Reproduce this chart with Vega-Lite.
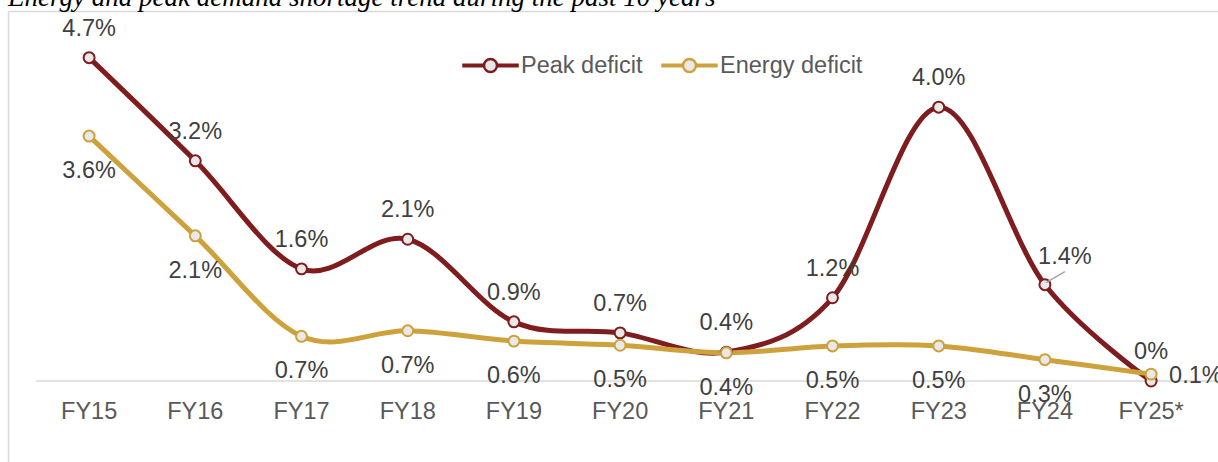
{
  "$schema": "https://vega.github.io/schema/vega-lite/v6.json",
  "width": 1210,
  "height": 451,
  "autosize": {"type": "none"},
  "padding": {"left": 8, "top": 11, "right": 0, "bottom": 0},
  "title": {
    "text": "Energy and peak demand shortage trend during the past 10 years",
    "anchor": "start",
    "frame": "group",
    "baseline": "alphabetic",
    "offset": -22,
    "font": "Liberation Serif",
    "fontStyle": "italic",
    "fontWeight": "normal",
    "fontSize": 27,
    "color": "#000000"
  },
  "config": {"view": {"stroke": null}, "font": "Liberation Sans"},
  "data": {
    "values": [
      {"year": "FY15", "series": "Peak deficit", "value": 4.7, "label": "4.7%"},
      {"year": "FY16", "series": "Peak deficit", "value": 3.2, "label": "3.2%"},
      {"year": "FY17", "series": "Peak deficit", "value": 1.63, "label": "1.6%"},
      {"year": "FY18", "series": "Peak deficit", "value": 2.06, "label": "2.1%"},
      {"year": "FY19", "series": "Peak deficit", "value": 0.86, "label": "0.9%"},
      {"year": "FY20", "series": "Peak deficit", "value": 0.7, "label": "0.7%"},
      {"year": "FY21", "series": "Peak deficit", "value": 0.42, "label": "0.4%"},
      {"year": "FY22", "series": "Peak deficit", "value": 1.21, "label": "1.2%"},
      {"year": "FY23", "series": "Peak deficit", "value": 3.98, "label": "4.0%"},
      {"year": "FY24", "series": "Peak deficit", "value": 1.4, "label": "1.4%"},
      {"year": "FY25*", "series": "Peak deficit", "value": 0, "label": "0%"},
      {"year": "FY15", "series": "Energy deficit", "value": 3.56, "label": "3.6%"},
      {"year": "FY16", "series": "Energy deficit", "value": 2.11, "label": "2.1%"},
      {"year": "FY17", "series": "Energy deficit", "value": 0.65, "label": "0.7%"},
      {"year": "FY18", "series": "Energy deficit", "value": 0.73, "label": "0.7%"},
      {"year": "FY19", "series": "Energy deficit", "value": 0.58, "label": "0.6%"},
      {"year": "FY20", "series": "Energy deficit", "value": 0.52, "label": "0.5%"},
      {"year": "FY21", "series": "Energy deficit", "value": 0.41, "label": "0.4%"},
      {"year": "FY22", "series": "Energy deficit", "value": 0.51, "label": "0.5%"},
      {"year": "FY23", "series": "Energy deficit", "value": 0.51, "label": "0.5%"},
      {"year": "FY24", "series": "Energy deficit", "value": 0.31, "label": "0.3%"},
      {"year": "FY25*", "series": "Energy deficit", "value": 0.1, "label": "0.1%"}
    ]
  },
  "encoding": {
    "x": {
      "field": "year",
      "type": "nominal",
      "scale": {
        "type": "band",
        "domain": ["FY15", "FY16", "FY17", "FY18", "FY19", "FY20", "FY21", "FY22", "FY23", "FY24", "FY25*"],
        "paddingInner": 0,
        "paddingOuter": 0.1968,
        "align": 0.67
      },
      "axis": {
        "orient": "bottom",
        "offset": -81,
        "title": null,
        "domain": false,
        "ticks": false,
        "grid": false,
        "labelAngle": 0,
        "labelFont": "Liberation Sans",
        "labelFontSize": 23.5,
        "labelColor": "#595959",
        "labelBaseline": "alphabetic",
        "labelPadding": 37
      }
    },
    "y": {
      "field": "value",
      "type": "quantitative",
      "scale": {"domain": [-1.177, 5.378], "nice": false, "zero": false},
      "axis": {
        "title": null,
        "labels": false,
        "ticks": false,
        "domain": true,
        "domainColor": "#D9D9D9",
        "domainWidth": 1.5,
        "grid": true,
        "gridColor": "#D9D9D9",
        "gridWidth": 1.5,
        "values": [5.378]
      }
    }
  },
  "layer": [
    {
      "data": {"values": [{"year": "FY15", "value": 0}]},
      "mark": {"type": "rule", "color": "#D9D9D9", "strokeWidth": 1.5},
      "encoding": {
        "x": {"field": "year", "type": "nominal", "bandPosition": 0},
        "x2": {"value": "width"},
        "y": {"field": "value", "type": "quantitative"}
      }
    },
    {
      "mark": {"type": "line", "interpolate": "cardinal", "tension": 0, "strokeWidth": 5},
      "encoding": {
        "color": {
          "field": "series",
          "type": "nominal",
          "scale": {"domain": ["Peak deficit", "Energy deficit"], "range": ["#7E1C1E", "#CDA13B"]},
          "legend": {
            "orient": "none",
            "legendX": 454,
            "legendY": 26,
            "direction": "horizontal",
            "title": null,
            "padding": 0,
            "symbolType": "M-1,-0.03H-0.24V0.03H-1Z M0.24,-0.03H1V0.03H0.24Z M-0.24,0A0.24,0.24 0 1,1 0.24,0A0.24,0.24 0 1,1 -0.24,0Z",
            "symbolSize": 2916,
            "symbolStrokeWidth": 2.5,
            "symbolFillColor": "#E8E8E8",
            "symbolOpacity": 1,
            "labelFont": "Liberation Sans",
            "labelFontSize": 23.5,
            "labelColor": "#595959",
            "labelOffset": 2,
            "labelLimit": 300,
            "columnPadding": 14,
            "encode": {"symbols": {"update": {"fill": {"value": "#E8E8E8"}, "strokeWidth": {"value": 2.5}}}}
          }
        }
      }
    },
    {
      "mark": {"type": "point", "shape": "circle", "filled": false, "fill": "#E8E8E8", "size": 120, "strokeWidth": 2, "opacity": 1},
      "encoding": {
        "color": {"field": "series", "type": "nominal"}
      }
    },
    {
      "transform": [{"filter": "datum.series === 'Peak deficit' && datum.year !== 'FY24'"}],
      "mark": {"type": "text", "dy": -22, "align": "center", "baseline": "alphabetic", "font": "Liberation Sans", "fontSize": 23.5, "color": "#404040"},
      "encoding": {"text": {"field": "label"}}
    },
    {
      "transform": [{"filter": "datum.series === 'Peak deficit' && datum.year === 'FY24'"}],
      "mark": {"type": "rule", "color": "#A6A6A6", "strokeWidth": 1.5, "xOffset": 1, "yOffset": -2, "x2Offset": 20, "y2Offset": -13},
      "encoding": {
        "x2": {"field": "year"},
        "y2": {"field": "value"}
      }
    },
    {
      "transform": [{"filter": "datum.series === 'Peak deficit' && datum.year === 'FY24'"}],
      "mark": {"type": "text", "dx": 20, "dy": -21, "align": "center", "baseline": "alphabetic", "font": "Liberation Sans", "fontSize": 23.5, "color": "#404040"},
      "encoding": {"text": {"field": "label"}}
    },
    {
      "transform": [{"filter": "datum.series === 'Energy deficit' && datum.year !== 'FY25*'"}],
      "mark": {"type": "text", "dy": 42, "align": "center", "baseline": "alphabetic", "font": "Liberation Sans", "fontSize": 23.5, "color": "#404040"},
      "encoding": {"text": {"field": "label"}}
    },
    {
      "transform": [{"filter": "datum.series === 'Energy deficit' && datum.year === 'FY25*'"}],
      "mark": {"type": "text", "dx": 18, "dy": 9, "align": "left", "baseline": "alphabetic", "font": "Liberation Sans", "fontSize": 23.5, "color": "#404040"},
      "encoding": {"text": {"field": "label"}}
    }
  ]
}
